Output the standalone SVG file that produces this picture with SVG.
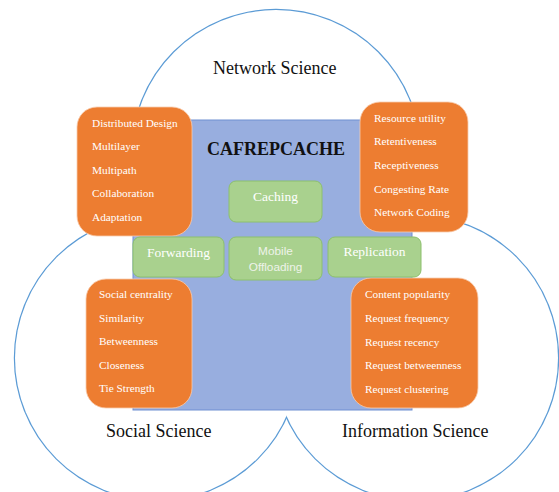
<svg xmlns="http://www.w3.org/2000/svg" width="559" height="492" viewBox="0 0 559 492">
<style>
.ring{fill:none;stroke:#5B9BD5;stroke-width:2.4}
.hole{fill:#fff;stroke:none}
.ob{fill:#ED7D31;stroke:#F8CBAD;stroke-width:0.8}
.ot{font-family:"Liberation Serif","Times New Roman",serif;font-size:11.3px;fill:#fff}
.gb{fill:#A9D18E;stroke:#8CC06C;stroke-width:1}
.gt{font-family:"Liberation Serif","Times New Roman",serif;font-size:13.5px;fill:#fff;text-anchor:middle}
.gs{font-family:"Liberation Sans",Arial,sans-serif;font-size:11.8px;fill:#EEF3EA;text-anchor:middle}
.lbl{font-family:"Liberation Serif","Times New Roman",serif;font-size:18px;fill:#111}
</style>
<rect width="559" height="492" fill="#fff"/>
<g id="venn">
<circle class="ring" cx="276" cy="154" r="144"/>
<circle class="ring" cx="157" cy="358" r="142"/>
<circle class="ring" cx="416" cy="358" r="142"/>
<circle class="hole" cx="276" cy="154" r="144"/>
<circle class="hole" cx="157" cy="358" r="142"/>
<circle class="hole" cx="416" cy="358" r="142"/>
</g>
<g id="labels">
<text class="lbl" x="213" y="74">Network Science</text>
<text class="lbl" x="106" y="437">Social Science</text>
<text class="lbl" x="342" y="437">Information Science</text>
</g>
<g id="cafrepcache">
<rect x="133" y="120" width="279" height="290" fill="#98AEDF" stroke="#6F8FD2" stroke-width="1"/>
<text x="276" y="155" text-anchor="middle" font-family="Liberation Serif,'Times New Roman',serif" font-weight="bold" font-size="18px" fill="#111">CAFREPCACHE</text>
</g>
<g id="network-box">
<rect class="ob" x="77" y="107" width="115" height="129" rx="20"/>
<text class="ot" x="92" y="127">Distributed Design</text>
<text class="ot" x="92" y="150">Multilayer</text>
<text class="ot" x="92" y="174">Multipath</text>
<text class="ot" x="92" y="197">Collaboration</text>
<text class="ot" x="92" y="221">Adaptation</text>
</g>
<g id="network-box-2">
<rect class="ob" x="360" y="102" width="108" height="130" rx="20"/>
<text class="ot" x="374" y="122">Resource utility</text>
<text class="ot" x="374" y="145">Retentiveness</text>
<text class="ot" x="374" y="169">Receptiveness</text>
<text class="ot" x="374" y="193">Congesting Rate</text>
<text class="ot" x="374" y="216">Network Coding</text>
</g>
<g id="social-box">
<rect class="ob" x="86" y="279" width="106" height="129" rx="20"/>
<text class="ot" x="99" y="298">Social centrality</text>
<text class="ot" x="99" y="322">Similarity</text>
<text class="ot" x="99" y="345">Betweenness</text>
<text class="ot" x="99" y="369">Closeness</text>
<text class="ot" x="99" y="392">Tie Strength</text>
</g>
<g id="information-box">
<rect class="ob" x="351" y="278" width="127" height="130" rx="20"/>
<text class="ot" x="365" y="298">Content popularity</text>
<text class="ot" x="365" y="322">Request frequency</text>
<text class="ot" x="365" y="346">Request recency</text>
<text class="ot" x="365" y="369">Request betweenness</text>
<text class="ot" x="365" y="393">Request clustering</text>
</g>
<g id="caching">
<rect class="gb" x="229" y="181" width="93" height="41" rx="7"/>
<text class="gt" x="275.5" y="201">Caching</text>
</g>
<g id="forwarding">
<rect class="gb" x="133" y="237" width="91" height="40" rx="7"/>
<text class="gt" x="178.5" y="257">Forwarding</text>
</g>
<g id="mobile-offloading">
<rect class="gb" x="229" y="237" width="93" height="43" rx="7"/>
<text class="gs" x="275.5" y="255">Mobile</text>
<text class="gs" x="275.5" y="271">Offloading</text>
</g>
<g id="replication">
<rect class="gb" x="328" y="237" width="93" height="40" rx="7"/>
<text class="gt" x="374.5" y="256">Replication</text>
</g>
<g id="connectors"></g>
</svg>
